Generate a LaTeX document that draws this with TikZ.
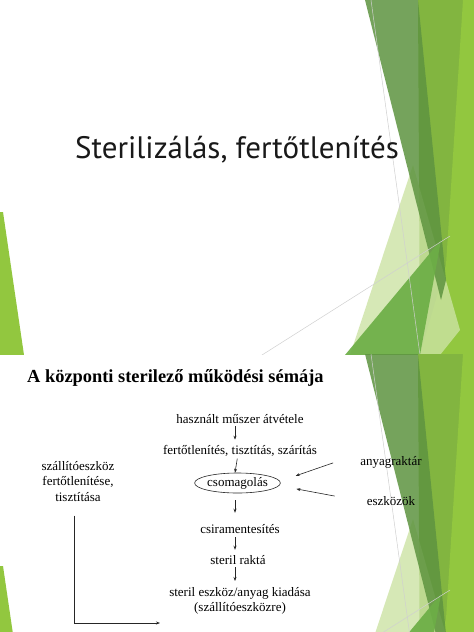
\documentclass[tikz,border=0pt]{standalone}
\usepackage{fontspec}
\setmainfont{Liberation Serif}
\newfontfamily\titlefont{PT Sans}
\usetikzlibrary{shapes.geometric,arrows.meta}
\definecolor{limeB}{HTML}{92C73F}
\definecolor{limeM}{HTML}{82B540}
\definecolor{darkG}{HTML}{5E9440}
\definecolor{paleG}{HTML}{CCE3A4}
\definecolor{midG}{HTML}{6CAE46}
\definecolor{lineG}{HTML}{D0D0D0}
\newcommand\facetdeco{%
  \fill[limeM] (418,0) -- (474,0) -- (474,355) -- (420,355) -- cycle;
  \fill[limeB] (463,0) -- (474,0) -- (474,355) -- (420,355) -- (446,265) -- cycle;
  \fill[paleG, opacity=.8] (413,165) -- (460,330) -- (440,355) -- (350,355) -- cycle;
  \fill[darkG, opacity=.85] (365,0) -- (418,0) -- (446,280) -- (441,300) -- cycle;
  \fill[midG, opacity=.92] (441,240) -- (420,355) -- (345,355) -- cycle;
  \draw[lineG, line width=.5pt] (371,0) -- (420,355);
  \draw[lineG, line width=.5pt] (262,355) -- (450,236);
  \fill[limeB] (0,212) -- (3,212) -- (24,355) -- (0,355) -- cycle;
}
\tikzset{
  flow/.style={font=\fontsize{13}{15.5}\selectfont, inner sep=1pt, align=center},
  arr/.style={draw=black!85, line width=.6pt, -{Stealth[length=4pt,width=3pt]}},
}
\begin{document}
\begin{tikzpicture}[x=1pt,y=-1pt]
\useasboundingbox (0,0) rectangle (474,632);
\fill[white] (0,0) rectangle (474,632);
\begin{scope}
  \clip (0,0) rectangle (474,354);
  \facetdeco
\end{scope}
\begin{scope}[shift={(0,354)}]
  \clip (0,0) rectangle (474,278);
  \facetdeco
\end{scope}

% titles
\node[font=\titlefont\fontsize{31}{36}\selectfont, text=black!90, anchor=base, inner sep=0] (t1) at (237,158) {Sterilizálás, fertőtlenítés};
\node[font=\bfseries\fontsize{18.4}{22}\selectfont, anchor=base west, inner sep=0] (t2) at (27,382) {A központi sterilező működési sémája};

% flow
\node[flow, anchor=base] (n1) at (240,423) {használt műszer átvétele};
\node[flow, anchor=base] (n2) at (240,454) {fertőtlenítés, tisztítás, szárítás};
\node[flow, draw=black!85, line width=.6pt, ellipse, minimum width=78pt, minimum height=20pt, inner sep=0] (n3) at (237.5,483) {csomagolás};
\node[flow, anchor=base] (n4) at (240,533) {csiramentesítés};
\node[flow, anchor=base] (n5) at (238,564) {steril raktá};
\node[flow, anchor=north] (n6) at (240,586) {steril eszköz/anyag kiadása\\(szállítóeszközre)};
\node[flow, anchor=north] (lft) at (78,460) {szállítóeszköz\\fertőtlenítése,\\tisztítása};
\node[flow, anchor=base] (anya) at (391,465) {anyagraktár};
\node[flow, anchor=base] (eszk) at (391,505) {eszközök};
\coordinate (lend) at (160,623);

\draw[arr, shorten <=2pt, shorten >=4pt] ([xshift=-5pt]n1.south) -- ([xshift=-5pt]n2.north);
\draw[arr, shorten <=1.5pt, shorten >=0pt] ([xshift=-2.5pt]n2.south) -- ([xshift=-2.5pt]n3.north);
\draw[arr, shorten <=7pt, shorten >=10pt] ([xshift=-2.5pt]n3.south) -- ([xshift=-5pt]n4.north);
\draw[arr, shorten <=3pt, shorten >=4pt] ([xshift=-5pt]n4.south) -- ([xshift=-3pt]n5.north);
\draw[arr, shorten <=2pt, shorten >=5pt] ([xshift=-3pt]n5.south) -- ([xshift=-5pt]n6.north);
\draw[arr] ([xshift=-4pt,yshift=-13pt]lft.south) |- (lend);
\draw[arr, shorten >=16pt] ([xshift=-26pt,yshift=-1pt]anya.west) -- ([yshift=2pt]n3.east);
\draw[arr, shorten >=16pt] ([xshift=-31pt,yshift=4.5pt]eszk.west) -- ([yshift=-3pt]n3.east);
\end{tikzpicture}
\end{document}
